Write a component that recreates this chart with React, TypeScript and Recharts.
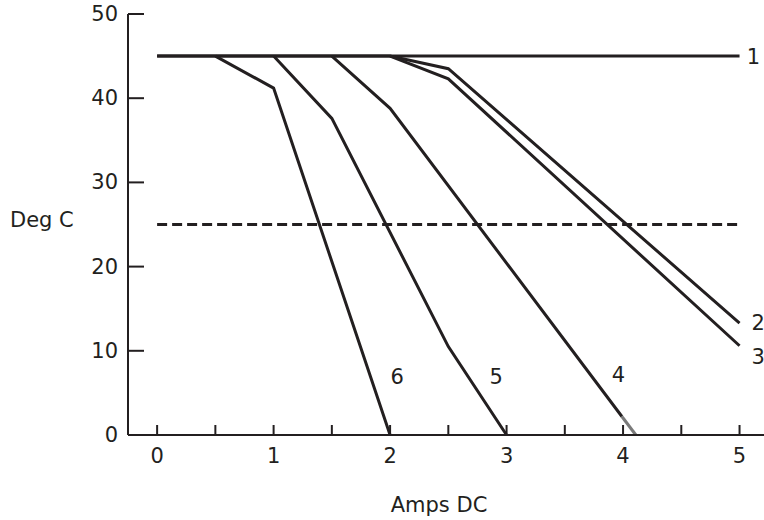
import React from 'react'
import { LineChart, Line, XAxis, YAxis, ReferenceDot } from 'recharts'

const INK = '#231f20'
const FONT = '"DejaVu Sans", Verdana, sans-serif'
const FS = 21

// derating curves, Amps DC vs Deg C
const curve1 = [{ x: 0, y: 45 }, { x: 5, y: 45 }]
const curve2 = [{ x: 0, y: 45 }, { x: 2, y: 45 }, { x: 2.5, y: 43.5 }, { x: 5, y: 13.3 }]
const curve3 = [{ x: 2, y: 45 }, { x: 2.5, y: 42.3 }, { x: 5, y: 10.6 }]
const curve4 = [{ x: 1.5, y: 45 }, { x: 2, y: 38.8 }, { x: 3.99, y: 2.2 }]
const curve4Tail = [{ x: 3.99, y: 2.2 }, { x: 4.11, y: 0 }]
const curve5 = [{ x: 1, y: 45 }, { x: 1.5, y: 37.6 }, { x: 2.5, y: 10.5 }, { x: 3, y: 0 }]
const curve6 = [{ x: 0.5, y: 45 }, { x: 1, y: 41.2 }, { x: 2, y: 0 }]
const ambient = [{ x: 0, y: 25 }, { x: 5, y: 25 }]

const curveLabels = [
  { text: '1', x: 5.12, y: 45 },
  { text: '2', x: 5.16, y: 13.3 },
  { text: '3', x: 5.16, y: 9.3 },
  { text: '4', x: 3.96, y: 7.2 },
  { text: '5', x: 2.91, y: 7.0 },
  { text: '6', x: 2.06, y: 7.0 },
]

const xTicks = [0, 0.5, 1, 1.5, 2, 2.5, 3, 3.5, 4, 4.5, 5]
const yTicks = [0, 10, 20, 30, 40, 50]

function XTick(props: any) {
  const { x, y, payload } = props
  const major = Number.isInteger(payload.value)
  return (
    <g>
      <line x1={x} x2={x} y1={y - 10} y2={y} stroke={INK} strokeWidth={2} />
      {major && (
        <text x={x} y={y + 28} textAnchor="middle" fontSize={FS} fontFamily={FONT} fill={INK}>
          {payload.value}
        </text>
      )}
    </g>
  )
}

function YTick(props: any) {
  const { x, y, payload } = props
  return (
    <g>
      <line x1={x} x2={x + 16} y1={y} y2={y} stroke={INK} strokeWidth={2} />
      <text x={x - 10} y={y + 7} textAnchor="end" fontSize={FS} fontFamily={FONT} fill={INK}>
        {payload.value}
      </text>
    </g>
  )
}

export default function App() {
  const lineProps = { type: 'linear' as const, dataKey: 'y', stroke: INK, strokeWidth: 3, dot: false, isAnimationActive: false }
  return (
    <div style={{ position: 'absolute', left: 0, top: 0, background: '#fff' }}>
      <LineChart width={764} height={520} margin={{ top: 14, right: 0, bottom: 0, left: 0 }}>
        <XAxis
          type="number"
          dataKey="x"
          domain={[-0.25, 5.21]}
          ticks={xTicks}
          allowDataOverflow
          tickSize={0}
          tickMargin={0}
          tickLine={false}
          tick={<XTick />}
          height={85}
          axisLine={{ stroke: INK, strokeWidth: 2 }}
          label={{ value: 'Amps DC', position: 'insideBottom', offset: 8, dx: -7, fontSize: FS, fontFamily: FONT, fill: INK }}
        />
        <YAxis
          type="number"
          domain={[0, 50]}
          ticks={yTicks}
          width={128}
          tickSize={0}
          tickMargin={0}
          tickLine={false}
          tick={<YTick />}
          axisLine={{ stroke: INK, strokeWidth: 2 }}
          label={{ value: 'Deg C', position: 'insideLeft', offset: 10, dy: -5, fontSize: FS, fontFamily: FONT, fill: INK }}
        />
        <Line data={ambient} {...lineProps} strokeDasharray="10 5" />
        <Line data={curve1} {...lineProps} />
        <Line data={curve2} {...lineProps} />
        <Line data={curve3} {...lineProps} />
        <Line data={curve4} {...lineProps} />
        <Line data={curve4Tail} {...lineProps} stroke="#7a7a7a" />
        <Line data={curve5} {...lineProps} />
        <Line data={curve6} {...lineProps} />
        {curveLabels.map(l => (
          <ReferenceDot
            key={l.text}
            x={l.x}
            y={l.y}
            r={0}
            fill="none"
            stroke="none"
            label={{ value: l.text, position: 'center', fontSize: FS, fontFamily: FONT, fill: INK }}
          />
        ))}
      </LineChart>
    </div>
  )
}
